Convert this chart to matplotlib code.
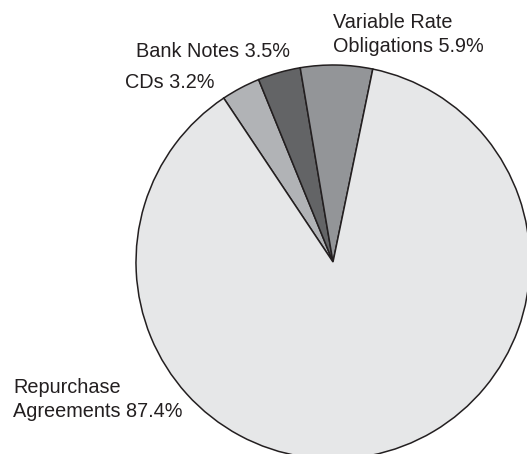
import matplotlib
matplotlib.use("Agg")
import matplotlib.pyplot as plt

categories = ["CDs", "Bank Notes", "Variable Rate\nObligations", "Repurchase\nAgreements"]
values = [3.2, 3.5, 5.9, 87.4]
colors = ["#b1b3b6", "#636466", "#939598", "#e6e7e8"]

W, H = 527, 454
fig = plt.figure(figsize=(W / 100, H / 100), dpi=100)
ax = fig.add_axes([0, 0, 1, 1])
ax.set_xlim(0, W)
ax.set_ylim(0, H)
ax.set_axis_off()

cx, cy, r = 333, H - 262, 197
ax.pie(values, colors=colors, startangle=123.7, counterclock=False,
       center=(cx, cy), radius=r, frame=True,
       wedgeprops=dict(edgecolor="#231f20", linewidth=1.1))
ax.set_xlim(0, W)
ax.set_ylim(0, H)
ax.set_axis_off()

# label anchor: (left x, first baseline y) in pixels from top
label_pos = [(125, 88), (136, 57), (333, 28), (13, 393)]
fs = 14.3
for name, v, (lx, ly) in zip(categories, values, label_pos):
    lines = f"{name} {v}%".split("\n")
    for i, line in enumerate(lines):
        ax.text(lx, H - (ly + 24 * i), line, ha="left", va="baseline",
                fontsize=fs, family="Liberation Sans", color="#231f20")

fig.savefig("out.png", dpi=100)
